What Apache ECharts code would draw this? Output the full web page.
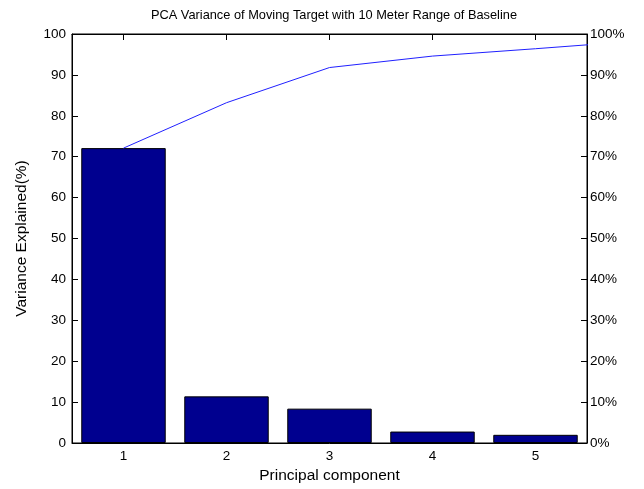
<!DOCTYPE html>
<html>
<head>
<meta charset="utf-8">
<script src="https://cdn.jsdelivr.net/npm/echarts@6/dist/echarts.min.js"></script>
<style>html,body{margin:0;padding:0;background:#fff;}#c{width:644px;height:489px;}</style>
</head>
<body>
<div id="c"></div>
<script>
const titleText = 'PCA Variance of Moving Target with 10 Meter Range of Baseline';
const categories = ['1', '2', '3', '4', '5'];
const varianceExplained = [72.1, 11.4, 8.4, 2.8, 2.0];
const cumulativeX = [1, 2, 3, 4, 5, 6];
const cumulativeValues = [72.1, 83.2, 91.8, 94.6, 96.4, 98.3];

const chart = echarts.init(document.getElementById('c'), null, {renderer: 'canvas'});
const font = 'Liberation Sans, Arial, Helvetica, sans-serif';
const axisText = {color: '#000', fontFamily: font, fontSize: 13.5};
const nameText = {color: '#000', fontFamily: font, fontSize: 15.5};

chart.setOption({
  animation: false,
  backgroundColor: '#fff',
  title: {
    text: titleText, left: 329, top: 4, textAlign: 'center',
    textStyle: {fontFamily: font, fontSize: 12.8, fontWeight: 'normal', color: '#000'}
  },
  grid: {left: 72, right: 57, top: 34, bottom: 46, show: true, borderColor: '#000', borderWidth: 1, backgroundColor: 'transparent'},
  xAxis: [
    {
      type: 'category', data: categories, position: 'bottom',
      boundaryGap: true,
      name: 'Principal component', nameLocation: 'middle', nameGap: 25,
      nameTextStyle: nameText,
      axisLine: {lineStyle: {color: '#000'}},
      axisTick: {inside: true, alignWithLabel: true, length: 6, lineStyle: {color: '#000'}},
      axisLabel: Object.assign({margin: 6}, axisText),
      splitLine: {show: false}
    },
    {
      type: 'value', min: 0.5, max: 5.5, show: false
    },
    {
      type: 'category', data: categories, position: 'top', boundaryGap: true,
      axisLine: {show: true, lineStyle: {color: '#000'}},
      axisTick: {show: true, inside: true, alignWithLabel: true, length: 6, lineStyle: {color: '#000'}},
      axisLabel: {show: false}, splitLine: {show: false}
    }
  ],
  yAxis: [
    {
      type: 'value', min: 0, max: 100, interval: 10, position: 'left',
      name: 'Variance Explained(%)', nameLocation: 'middle', nameGap: 42,
      nameTextStyle: nameText,
      axisLine: {show: true, lineStyle: {color: '#000'}},
      axisTick: {show: true, inside: true, length: 6, lineStyle: {color: '#000'}},
      axisLabel: Object.assign({margin: 6}, axisText),
      splitLine: {show: false}
    },
    {
      type: 'value', min: 0, max: 100, interval: 10, position: 'right',
      axisLine: {show: true, lineStyle: {color: '#000'}},
      axisTick: {show: true, inside: true, length: 6, lineStyle: {color: '#000'}},
      axisLabel: Object.assign({margin: 3, formatter: '{value}%'}, axisText),
      splitLine: {show: false}
    }
  ],
  series: [
    {
      type: 'bar', xAxisIndex: 0, yAxisIndex: 0,
      data: varianceExplained,
      barCategoryGap: '18%',
      itemStyle: {color: '#00008f', borderColor: '#000', borderWidth: 1}
    },
    {
      type: 'line', xAxisIndex: 1, yAxisIndex: 1,
      data: cumulativeX.map((x, i) => [x, cumulativeValues[i]]),
      symbol: 'none', clip: true,
      lineStyle: {color: '#2020ff', width: 1}
    }
  ]
});
</script>
</body>
</html>
